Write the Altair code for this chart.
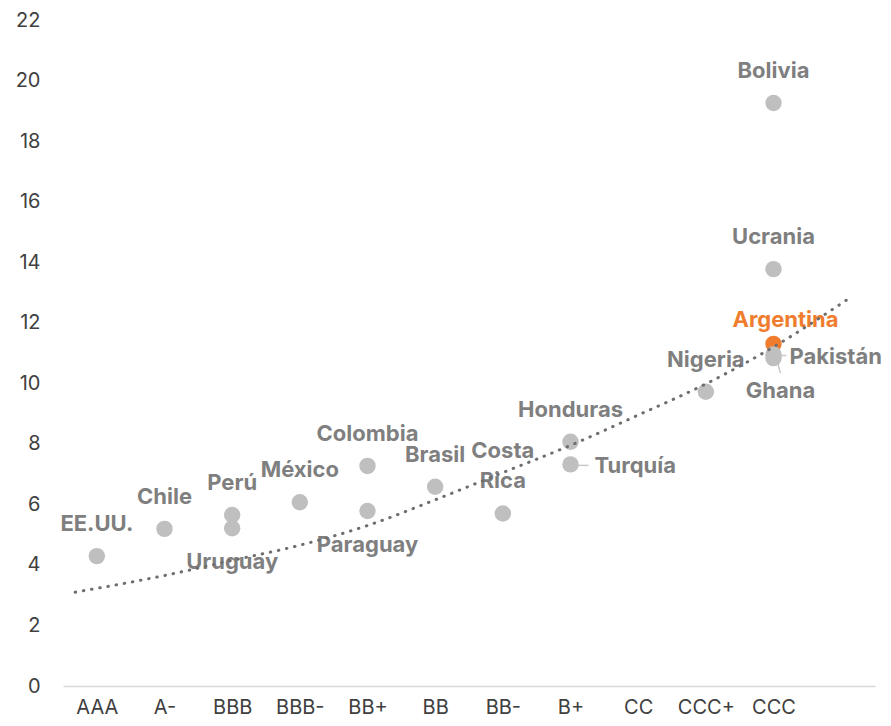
import json
import altair as alt
import pandas as pd

# ---- data ----
ratings_order = ["AAA", "A-", "BBB", "BBB-", "BB+", "BB", "BB-", "B+", "CC", "CCC+", "CCC"]

countries = ["EE.UU.", "Chile", "Perú", "Uruguay", "México", "Colombia", "Paraguay",
             "Brasil", "Costa\nRica", "Honduras", "Turquía", "Nigeria", "Bolivia",
             "Ucrania", "Argentina", "Pakistán", "Ghana"]
country_rating = ["AAA", "A-", "BBB", "BBB", "BBB-", "BB+", "BB+", "BB", "BB-", "B+", "B+",
                  "CCC+", "CCC", "CCC", "CCC", "CCC", "CCC"]
values = [4.29, 5.19, 5.65, 5.21, 6.07, 7.27, 5.78, 6.58, 5.70, 8.07, 7.32,
          9.72, 19.26, 13.77, 11.30, 10.95, 10.83]
label_side = ["above", "above", "above", "below", "above", "above", "below",
              "above", "above_two_lines", "above", "right", "above", "above",
              "above", "highlight", "right_edge", "below_right"]

# dotted trend line, read along its path
trend_x = [0.68, 2, 3, 4, 5, 6, 7, 8, 9, 10, 11, 12.12]
trend_y = [3.10, 3.65, 4.15, 4.65, 5.30, 6.15, 7.05, 7.95, 8.95, 9.98, 11.20, 12.81]

y_ticks = list(range(0, 23, 2))

# ---- tables ----
df = pd.DataFrame({
    "country": countries,
    "rating": country_rating,
    "value": values,
    "side": label_side,
})
df["pos"] = df["rating"].map(lambda r: ratings_order.index(r) + 1)
trend = pd.DataFrame({"x": trend_x, "y": trend_y})

GREY_PT = "#bfbfbf"
GREY_TXT = "#7f7f7f"
ORANGE = "#f07d2e"
LABEL_FONT = "Inter"

label_expr = json.dumps(ratings_order) + "[datum.value - 1]"

x_scale = alt.Scale(domain=[0.5, 12.5], nice=False, zero=False)
y_scale = alt.Scale(domain=[0, 22], nice=False)

x_enc = alt.X("pos:Q", scale=x_scale, axis=alt.Axis(
    values=list(range(1, len(ratings_order) + 1)), labelExpr=label_expr, title=None,
    grid=False, ticks=False, domain=True, domainColor="#d9d9d9", domainWidth=1.5,
    labelFont=LABEL_FONT, labelFontSize=20, labelColor="#404040", labelPadding=11,
    labelOverlap=False))
y_enc = alt.Y("value:Q", scale=y_scale, axis=alt.Axis(
    values=y_ticks, title=None, grid=False, ticks=False, domain=False,
    labelFont=LABEL_FONT, labelFontSize=20, labelColor="#404040", labelPadding=23))

base = alt.Chart(df).encode(x=x_enc, y=y_enc)

# leader lines
lead_turq = base.transform_filter("datum.country == 'Turquía'").mark_rule(
    color="#c8c8c8", strokeWidth=1.5, xOffset=2, x2Offset=18, yOffset=1, y2Offset=1
).encode(x2="pos:Q", y2="value:Q")
lead_pak = base.transform_filter("datum.country == 'Pakistán'").mark_rule(
    color="#c8c8c8", strokeWidth=1.5, xOffset=2, x2Offset=13, yOffset=1, y2Offset=1
).encode(x2="pos:Q", y2="value:Q")
lead_gha = base.transform_filter("datum.country == 'Ghana'").mark_rule(
    color="#c8c8c8", strokeWidth=1.5, xOffset=1, x2Offset=7, yOffset=-6, y2Offset=15
).encode(x2="pos:Q", y2="value:Q")

points = base.mark_circle(size=270, opacity=1).encode(
    color=alt.condition("datum.side == 'highlight'", alt.value(ORANGE), alt.value(GREY_PT))
)

txt = dict(font=LABEL_FONT, fontSize=22, fontWeight="bold", color=GREY_TXT, lineBreak="\n")

lab_above = base.transform_filter("datum.side == 'above'").mark_text(
    baseline="bottom", dy=-20, **txt).encode(text="country:N")
lab_above2 = base.transform_filter("datum.side == 'above_two_lines'").mark_text(
    baseline="bottom", dy=-50, lineHeight=30, **txt).encode(text="country:N")
lab_below = base.transform_filter("datum.side == 'below'").mark_text(
    baseline="middle", dy=34, **txt).encode(text="country:N")
lab_below_r = base.transform_filter("datum.side == 'below_right'").mark_text(
    baseline="middle", dy=33, dx=7, **txt).encode(text="country:N")
lab_right = base.transform_filter("datum.side == 'right'").mark_text(
    baseline="middle", align="left", dx=24, dy=2, **txt).encode(text="country:N")
lab_right_edge = base.transform_filter("datum.side == 'right_edge'").mark_text(
    baseline="middle", align="left", dx=16, dy=2, **txt).encode(text="country:N")
lab_hi = base.transform_filter("datum.side == 'highlight'").mark_text(
    baseline="middle", dx=12, dy=-24, **{**txt, "color": ORANGE}).encode(text="country:N")

trend_line = alt.Chart(trend).mark_line(
    color="#6e6e6e", strokeWidth=3, strokeDash=[0.5, 7.8], strokeCap="round",
    interpolate="monotone"
).encode(x=alt.X("x:Q", scale=x_scale), y=alt.Y("y:Q", scale=y_scale))

chart = alt.layer(
    lead_turq, lead_pak, lead_gha, points,
    lab_above, lab_above2, lab_below, lab_below_r, lab_right, lab_right_edge, lab_hi,
    trend_line
).properties(
    width=812, height=666,
    autosize=alt.AutoSizeParams(type="none"),
    padding={"left": 55, "top": 12, "right": 8, "bottom": 32},
).configure_view(stroke=None)

chart.save("out.html", embed_options={"renderer": "svg", "actions": False})
